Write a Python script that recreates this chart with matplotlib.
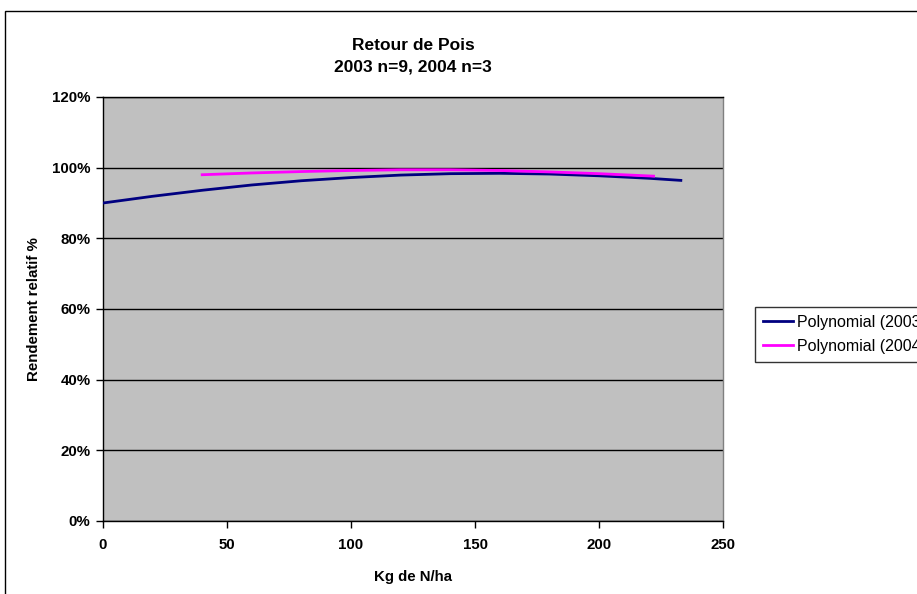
import matplotlib
matplotlib.use("Agg")
import matplotlib.pyplot as plt
from matplotlib.patches import Rectangle
from matplotlib.ticker import FuncFormatter

plt.rcParams['font.family'] = ['Liberation Sans', 'DejaVu Sans']

# Data (kg N/ha, relative yield %)
x_2003 = [0, 20, 40, 60, 80, 100, 120, 140, 160, 180, 200, 220, 233]
y_2003 = [90.0, 91.9, 93.6, 95.1, 96.3, 97.2, 97.9, 98.3, 98.4, 98.2, 97.7, 97.0, 96.4]
x_2004 = [40, 60, 80, 100, 120, 140, 160, 180, 200, 222]
y_2004 = [98.0, 98.5, 98.9, 99.2, 99.4, 99.4, 99.2, 98.8, 98.3, 97.6]
series_labels = ["Polynomial (2003)", "Polynomial (2004)"]
x_ticks = [0, 50, 100, 150, 200, 250]
y_ticks = [0, 20, 40, 60, 80, 100, 120]

W, H = 917, 594
fig = plt.figure(figsize=(W / 100, H / 100), dpi=100)
fig.patch.set_facecolor('white')

# outer chart-area border (clipped by figure edge at right/bottom)
fig.patches.append(Rectangle((4.5 / W, -0.1), 1.2, 1 - 10.5 / H + 0.1,
                             transform=fig.transFigure, fill=False,
                             edgecolor='black', linewidth=1))

left, right, top, bottom = 103, 723, 97, 521
ax = fig.add_axes([left / W, (H - bottom) / H, (right - left) / W, (bottom - top) / H])
ax.set_facecolor('#C0C0C0')

ax.plot(x_2003, y_2003, color='#000080', linewidth=2, label=series_labels[0], zorder=3)
ax.plot(x_2004, y_2004, color='#FF00FF', linewidth=2, label=series_labels[1], zorder=3)

ax.set_xlim(0, 250)
ax.set_ylim(0, 120)
ax.set_xticks(x_ticks)
ax.set_yticks(y_ticks)
ax.yaxis.set_major_formatter(FuncFormatter(lambda v, p: f"{int(v)}%"))
ax.grid(axis='y', color='black', linewidth=1, zorder=1)
ax.set_axisbelow(True)

for lab in ax.get_xticklabels() + ax.get_yticklabels():
    lab.set_fontweight('bold')
    lab.set_fontsize(10.8)
ax.tick_params(axis='both', direction='out', length=5, width=1, color='black', pad=4)
ax.tick_params(axis='x', pad=7)

ax.spines['left'].set_color('black')
ax.spines['bottom'].set_color('black')
ax.spines['top'].set_color('black')
ax.spines['right'].set_color('#808080')
for s in ax.spines.values():
    s.set_linewidth(1)

ax.set_xlabel("Kg de N/ha", fontsize=10.8, fontweight='bold', labelpad=13)
ax.set_ylabel("Rendement relatif %", fontsize=10.8, fontweight='bold', labelpad=8)

fig.text((left + right) / 2 / W, 1 - 45 / H, "Retour de Pois", ha='center', va='center',
         fontsize=12.5, fontweight='bold')
fig.text((left + right) / 2 / W, 1 - 67 / H, "2003 n=9, 2004 n=3", ha='center', va='center',
         fontsize=12.5, fontweight='bold')

leg = fig.legend(loc='upper left', bbox_to_anchor=(755 / W, 1 - 307 / H),
                 fontsize=11.5, frameon=True, fancybox=False, edgecolor='black',
                 handlelength=1.9, handletextpad=0.2, borderpad=0.5,
                 labelspacing=0.55, borderaxespad=0)
leg.get_frame().set_linewidth(1)

fig.savefig("out.png", dpi=100, facecolor='white')
